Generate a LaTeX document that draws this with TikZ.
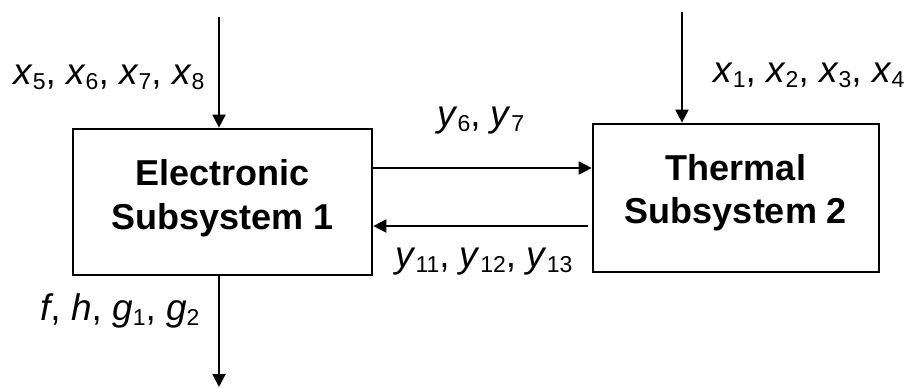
\documentclass[tikz,border=0pt]{standalone}
\usepackage{fontspec}
\setmainfont{Liberation Sans}
\usetikzlibrary{arrows.meta}
\newcommand\sv[2]{\textit{#1}\raisebox{-0.15em}{\fontsize{23}{23}\selectfont #2}}
\begin{document}
\begin{tikzpicture}[x=1pt,y=-1pt,
  box/.style={draw,line width=2.7pt,inner sep=0pt},
  conn/.style={line width=1.9pt,-{Triangle[length=13pt,width=13pt]}},
  lbl/.style={anchor=base west,inner sep=0pt,font=\fontsize{37}{44}\selectfont},
  title/.style={anchor=base,inner sep=0pt,font=\fontsize{36}{44}\selectfont\bfseries}]
\useasboundingbox (0,0) rectangle (914,388);
\node[box,minimum width=299pt,minimum height=146pt] (e) at (222.5,202) {};
\node[box,minimum width=286pt,minimum height=148pt] (t) at (736,198) {};
\node[title] (e1) at (222.5,185.5) {Electronic};
\node[title] (e2) at (222.5,229) {Subsystem 1};
\node[title] (t1) at (736,180) {Thermal};
\node[title] (t2) at (736,223) {Subsystem 2};
\coordinate (ein) at (219,17);
\coordinate (tin) at (682,12);
\coordinate (eout) at (219,387);
\draw[conn] (ein) -- (ein |- e.north);
\draw[conn] (tin) -- (tin |- t.north);
\draw[conn] (e.south -| eout) -- (eout);
\draw[conn] (e.east |- 0,168) -- (t.west |- 0,168);
\draw[conn] (t.west |- 0,226) ++(-4,0) -- (e.east |- 0,226);
\node[lbl] (lx58) at (13,84) {\sv{x}{5}, \sv{x}{6}, \sv{x}{7}, \sv{x}{8}};
\node[lbl] (lx14) at (713,82) {\sv{x}{1}, \sv{x}{2}, \sv{x}{3}, \sv{x}{4}};
\node[lbl] (ly67) at (437,126) {\sv{y}{6}, \sv{y}{7}};
\node[lbl] (ly11) at (395,267) {\sv{y}{11}, \sv{y}{12}, \sv{y}{13}};
\node[lbl] (lf) at (40,320) {\textit{f}, \textit{h}, \sv{g}{1}, \sv{g}{2}};
\end{tikzpicture}
\end{document}
